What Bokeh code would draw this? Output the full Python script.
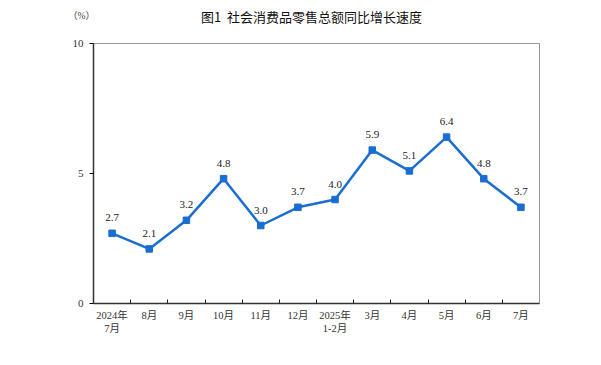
from bokeh.plotting import figure
from bokeh.layouts import column, row
from bokeh.models import ColumnDataSource, FixedTicker, LabelSet, Label, Range1d
from bokeh.embed import file_html
from bokeh.resources import INLINE

title_text = "图1\u00a0\u00a0社会消费品零售总额同比增长速度"
unit_text = "（%）"
categories = ["2024年\n7月", "8月", "9月", "10月", "11月", "12月", "2025年\n1-2月",
              "3月", "4月", "5月", "6月", "7月"]
values = [2.7, 2.1, 3.2, 4.8, 3.0, 3.7, 4.0, 5.9, 5.1, 6.4, 4.8, 3.7]
y_ticks = [0, 5, 10]

SERIF = "'Liberation Serif', 'Noto Sans CJK SC', serif"
BLUE = "#1a6ed2"
W = 593
TOP_H = 36

# header strip holding the title and the unit note
head = figure(width=W, height=TOP_H, output_backend="svg", toolbar_location=None,
              x_axis_location=None, y_axis_location=None,
              x_range=Range1d(0, 1), y_range=Range1d(0, 1),
              min_border_left=0, min_border_right=0, min_border_top=0, min_border_bottom=0)
head.outline_line_color = None
head.grid.visible = False
head.add_layout(Label(x=311, y=TOP_H - 16, x_units="screen", y_units="screen", text=title_text,
                      text_font="Noto Sans CJK SC", text_font_size="13px",
                      text_align="center", text_baseline="middle", text_color="#111111"))
head.add_layout(Label(x=81, y=TOP_H - 15, x_units="screen", y_units="screen", text=unit_text,
                      text_font=SERIF, text_font_size="9.5px",
                      text_align="center", text_baseline="middle", text_color="#444444"))

xs = list(range(len(categories)))
src = ColumnDataSource(dict(x=xs, y=values, lab=[f"{v:.1f}" for v in values]))

p = figure(width=W, height=357 - TOP_H, output_backend="svg", toolbar_location=None,
           x_range=Range1d(-0.5, len(categories) - 0.5), y_range=Range1d(0, 10),
           min_border_left=93, min_border_right=W - 539, min_border_top=43 - TOP_H,
           min_border_bottom=54)

p.line("x", "y", source=src, line_color=BLUE, line_width=2.5)
p.scatter("x", "y", source=src, marker="square", size=6.5, color=BLUE)

labels = LabelSet(x="x", y="y", text="lab", source=src, y_offset=12,
                  text_align="center", text_baseline="bottom",
                  text_font=SERIF, text_font_size="11px", text_color="#222222")
p.add_layout(labels)

p.grid.visible = False
p.outline_line_color = "#999999"
p.outline_line_width = 1

xt = FixedTicker(ticks=xs, minor_ticks=[i + 0.5 for i in xs[:-1]])
p.xaxis.ticker = xt
p.xaxis.major_label_overrides = {i: c for i, c in enumerate(categories)}
p.xaxis.major_tick_in = 0
p.xaxis.major_tick_out = 0
p.xaxis.minor_tick_in = 4
p.xaxis.minor_tick_out = 0
p.xaxis.minor_tick_line_color = "#222222"
p.xaxis.axis_line_color = "#333333"
p.xaxis.axis_line_width = 1.5
p.xaxis.major_label_text_font = SERIF
p.xaxis.major_label_text_font_size = "10.5px"
p.xaxis.major_label_text_color = "#333333"
p.xaxis.major_label_standoff = 6

p.yaxis.ticker = FixedTicker(ticks=y_ticks)
p.yaxis.major_tick_in = 0
p.yaxis.major_tick_out = 4
p.yaxis.minor_tick_line_color = None
p.yaxis.axis_line_color = "#333333"
p.yaxis.axis_line_width = 1.5
p.yaxis.major_label_text_font = SERIF
p.yaxis.major_label_text_font_size = "11px"
p.yaxis.major_label_text_color = "#333333"
p.yaxis.major_label_standoff = 6

layout = column(row(head), p, spacing=0)
open("out.html", "w").write(file_html(layout, INLINE))
